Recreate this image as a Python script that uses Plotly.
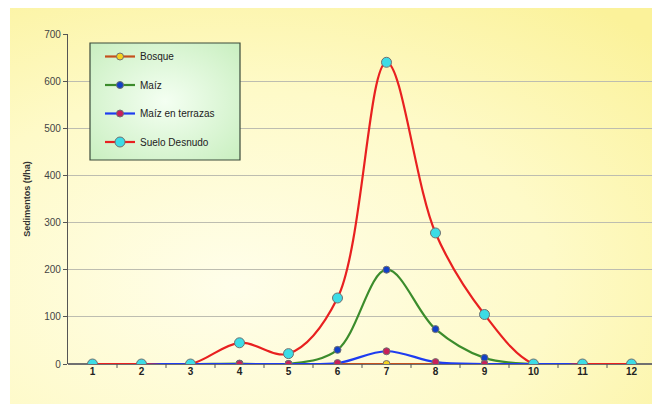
import base64
import plotly.graph_objects as go

# Monthly sediment yield per land-use scenario
meses = [1, 2, 3, 4, 5, 6, 7, 8, 9, 10, 11, 12]
bosque = [0, 0, 0, 0, 0, 0, 0, 0, 0, 0, 0, 0]
maiz = [0, 0, 0, 1, 0, 30, 200, 74, 13, 0, 0, 0]
maiz_terrazas = [0, 0, 0, 0, 0, 2, 27, 4, 0, 0, 0, 0]
suelo_desnudo = [0, 0, 0, 45, 22, 140, 640, 278, 105, 0, 0, 0]

y_ticks = [0, 100, 200, 300, 400, 500, 600, 700]


def svg_uri(svg):
    return "data:image/svg+xml;base64," + base64.b64encode(svg.encode()).decode()


bg_svg = """<svg xmlns='http://www.w3.org/2000/svg' width='640' height='400' preserveAspectRatio='none' viewBox='0 0 640 400'>
<defs><radialGradient id='g' cx='0.35' cy='0.7' r='0.9'>
<stop offset='0' stop-color='#FFFEEA'/><stop offset='0.55' stop-color='#FEFAC8'/><stop offset='1' stop-color='#FBF29A'/>
</radialGradient></defs><rect width='640' height='400' fill='url(#g)'/></svg>"""

leg_svg = """<svg xmlns='http://www.w3.org/2000/svg' width='150' height='117' preserveAspectRatio='none' viewBox='0 0 150 117'>
<defs><radialGradient id='l' cx='0.5' cy='0.5' r='0.7'>
<stop offset='0' stop-color='#F4FFF2'/><stop offset='1' stop-color='#C9EFC0'/>
</radialGradient></defs><rect width='150' height='117' fill='url(#l)'/></svg>"""

series = [
    ("Bosque", bosque, "#C4501C", "#F5D21E", 7),
    ("Maíz", maiz, "#3C8C2C", "#1240C8", 7),
    ("Maíz en terrazas", maiz_terrazas, "#1E3CF0", "#C8205A", 7),
    ("Suelo Desnudo", suelo_desnudo, "#E82020", "#3CDCE6", 10),
]

fig = go.Figure()
for name, vals, lc, mc, ms in series:
    fig.add_trace(go.Scatter(
        x=meses, y=vals, name=name, legendgroup=name,
        mode="lines+markers",
        line=dict(color=lc, width=2.2, shape="spline", smoothing=1.0),
        marker=dict(color=mc, size=ms, line=dict(color="#707070", width=1)),
    ))

L, T, B = 68, 34, 40
W, H = 652, 404
pw, ph = W - L, H - T - B


def px_x(p):
    return (p - L) / pw


def px_y(p):
    return (H - B - p) / ph


fig.add_layout_image(dict(
    source=svg_uri(bg_svg), xref="paper", yref="paper",
    x=px_x(10), y=px_y(8), sizex=px_x(652) - px_x(10), sizey=px_y(8) - px_y(404),
    sizing="stretch", layer="below", xanchor="left", yanchor="top",
))
fig.add_layout_image(dict(
    source=svg_uri(leg_svg), xref="paper", yref="paper",
    x=px_x(90), y=px_y(43), sizex=px_x(240) - px_x(90), sizey=px_y(43) - px_y(160),
    sizing="stretch", layer="above", xanchor="left", yanchor="top",
))
fig.add_shape(type="rect", xref="paper", yref="paper",
              x0=px_x(90), x1=px_x(240), y0=px_y(160), y1=px_y(43),
              line=dict(color="#3A4A3A", width=1.2), fillcolor="rgba(0,0,0,0)", layer="above")

fig.update_layout(
    width=W, height=H,
    margin=dict(l=L, r=0, t=T, b=B),
    paper_bgcolor="white", plot_bgcolor="rgba(0,0,0,0)",
    font=dict(family="Arial, Liberation Sans, sans-serif", size=10, color="#333333"),
    showlegend=True,
    legend=dict(
        x=px_x(100), y=px_y(42), xanchor="left", yanchor="top",
        bgcolor="rgba(0,0,0,0)", borderwidth=0,
        traceorder="grouped", tracegroupgap=9.5,
        font=dict(size=10, color="#222222"), itemwidth=30,
    ),
    xaxis=dict(
        range=[0.5, 0.5 + pw / 49.0], tickvals=meses, ticktext=["<b>%d</b>" % m for m in meses],
        showgrid=False, zeroline=False, showline=False,
        ticks="", tickfont=dict(size=10, color="#222222"),
    ),
    yaxis=dict(
        range=[0, 700], tickvals=y_ticks, showgrid=True, gridcolor="#BDBDB0", gridwidth=1,
        zeroline=True, zerolinecolor="#707070", zerolinewidth=1.5,
        showline=True, linecolor="#555555", linewidth=1.2,
        ticks="outside", ticklen=4, tickcolor="#555555",
        tickfont=dict(size=10, color="#444444"),
        title=dict(text="<b>Sedimentos (t/ha)</b>", font=dict(size=9, color="#333333"), standoff=12),
    ),
)

# Tick marks on the category axis, placed between months
for b in [m + 0.5 for m in meses]:
    fig.add_shape(type="line", xref="x", yref="paper", x0=b, x1=b, y0=0, y1=-0.012,
                  line=dict(color="#555555", width=1))

fig.write_html("out.html")
